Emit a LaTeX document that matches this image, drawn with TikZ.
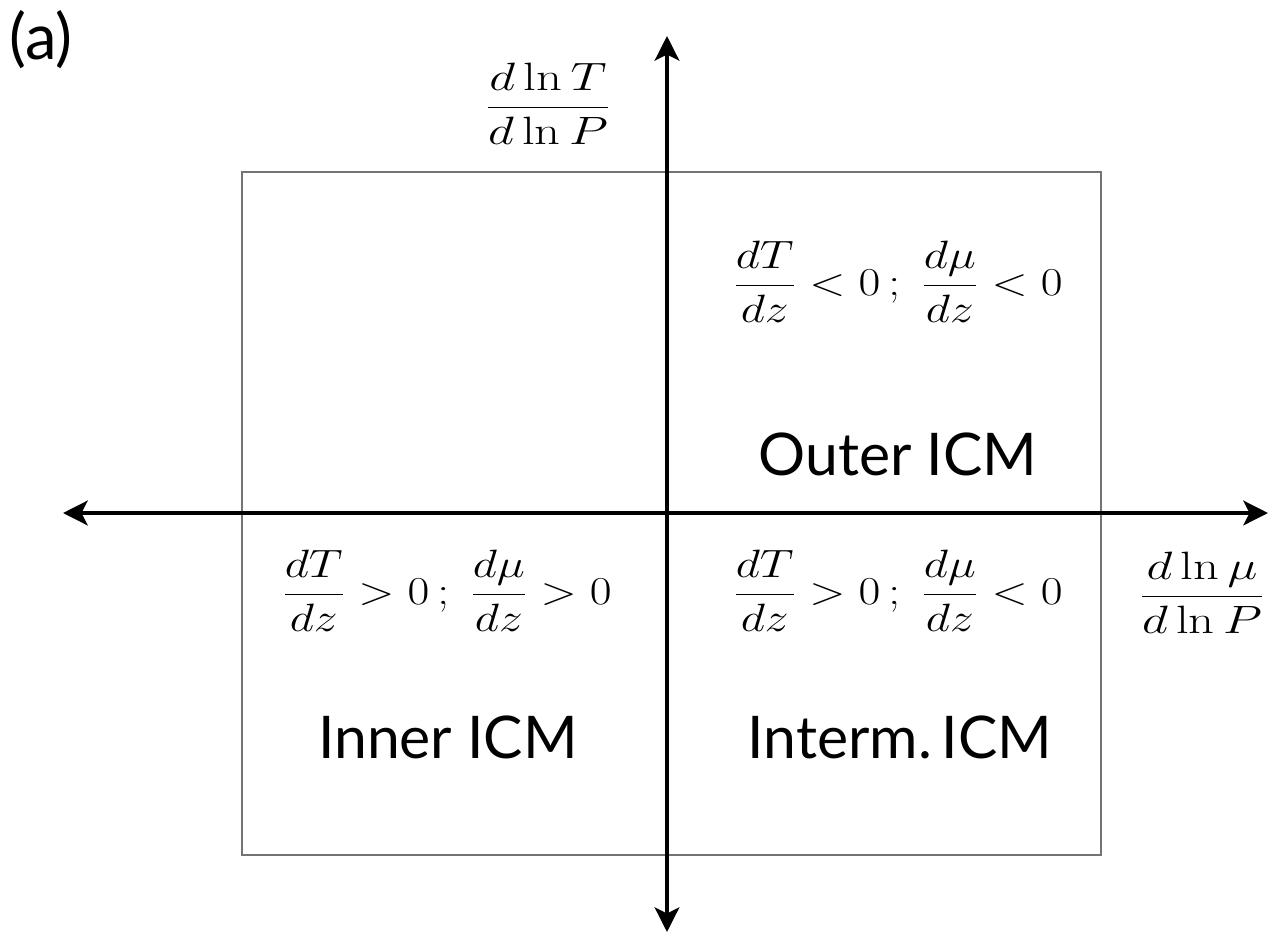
\RequirePackage{fix-cm}
\documentclass[tikz,border=0pt]{standalone}
\usepackage{fontspec}
\usepackage{graphicx}
\setsansfont{Lato}
\usetikzlibrary{arrows.meta}
\newcommand{\wmath}[2][1.2]{\scalebox{#1}[1]{$\displaystyle #2$}}
\tikzset{
  axisline/.style={line width=2.3pt, {Stealth[length=14pt,width=14pt,inset=3.5pt]}-{Stealth[length=14pt,width=14pt,inset=3.5pt]}},
  boxline/.style={draw=black!55, line width=0.7pt},
  mathlbl/.style={font=\fontsize{22.5}{27}\selectfont, inner sep=0pt},
  zonelbl/.style={font=\sffamily\fontsize{33.5}{40}\selectfont, inner sep=0pt},
}
\begin{document}
\begin{tikzpicture}[x=0.02cm,y=-0.02cm]
\useasboundingbox (0,0) rectangle (1269,934);
\draw[boxline] (242,172) rectangle (1101,855);
\coordinate (xl) at (63,513);
\coordinate (xr) at (1268,513);
\coordinate (yb) at (667,932);
\coordinate (yt) at (667,36);
\draw[axisline] (xl) -- (xr);
\draw[axisline] (yb) -- (yt);
\node[font=\sffamily\fontsize{36}{42}\selectfont, inner sep=0pt] (lab) at (41,40) {(a)};
\node[mathlbl] (ylab) at (548,104) {\wmath[1.28]{\frac{d\ln T}{d\ln P}}};
\node[mathlbl] (xlab) at (1202,593) {\wmath[1.28]{\frac{d\ln\mu}{d\ln P}}};
\node[mathlbl] (ur) at (898,282) {\wmath{\frac{dT}{dz}<0\,;\;\frac{d\mu}{dz}<0}};
\node[mathlbl] (ll) at (447,591) {\wmath{\frac{dT}{dz}>0\,;\;\frac{d\mu}{dz}>0}};
\node[mathlbl] (lr) at (898,591) {\wmath{\frac{dT}{dz}>0\,;\;\frac{d\mu}{dz}<0}};
\node[zonelbl] (outer) at (898,454) {Outer ICM};
\node[zonelbl] (inner) at (448,737) {Inner ICM};
\node[zonelbl] (interm) at (900,737) {Interm.\,ICM};
\end{tikzpicture}
\end{document}
